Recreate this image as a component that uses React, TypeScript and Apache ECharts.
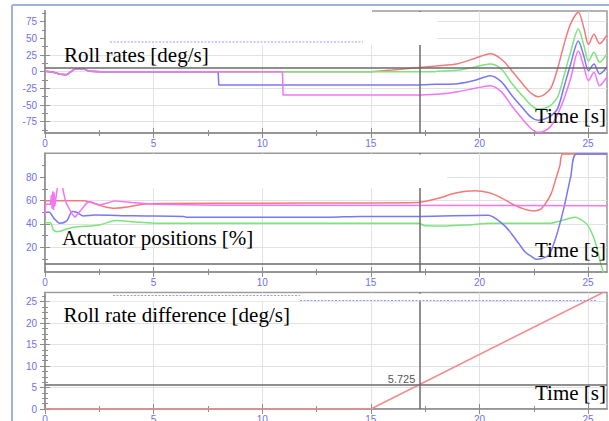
import React, { useEffect, useRef } from "react";
import * as echarts from "echarts";

// ---------- shared time axis ----------
const timeLabels = [0, 5, 10, 15, 20, 25];
const timeMinor = [2.5, 7.5, 12.5, 17.5, 22.5];
const timeMax = 25.87;
const cursorTime = 17.23;
const cursorValue = 5.725;

// ---------- panel 1: roll rates [deg/s] ----------
const rollLabels = [-75, -50, -25, 0, 25, 50, 75];
const rollMinor = [-87.5, -62.5, -37.5, -12.5, 12.5, 37.5, 62.5, 87.5];
const rollStart = [[0, 0.5], [0.35, -0.5], [0.7, -4], [1.0, -4.5], [1.2, 0], [1.4, 4.5], [1.75, 4.5], [2.05, 0.5], [2.6, 0]];
const rollBlueStep = [[7.97, 0], [8.0, -20]];
const rollMagentaStep = [[10.93, 0], [10.96, -35]];
const rollTime = [15, 16, 17, 18, 19, 19.8, 20.5, 21, 21.5, 22, 22.4, 22.7, 23, 23.3, 23.6, 23.9, 24.2, 24.55, 24.8, 25.02, 25.27, 25.53, 25.87];
const rollRed = [0, 2.5, 5.5, 8.5, 12, 20, 27, 19, 1, -19, -33, -37.5, -34, -24, 5, 42, 72, 89, 66, 41, 56, 42, 55];
const rollGreen = [0, 0, 0, 0.5, 2, 7, 11.5, 4, -18, -37, -51, -56, -55, -50, -38, -5, 30, 64, 40, 16, 29, 14, 27];
const rollBlue = [-20, -20, -20, -19, -18, -13, -6, -15, -36, -55, -69, -73, -71, -66, -55, -22, 12, 46, 24, 1.5, 11.5, -3.5, 7];
const rollMagenta = [-35, -35, -35, -34, -30, -25, -21, -30, -52, -72, -86, -91, -89, -81, -64, -40, -10, 31, 8, -13.5, -1, -21, -8];

// ---------- panel 2: actuator positions [%] ----------
const actLabels = [20, 40, 60, 80];
const actMinor = [10, 30, 50, 70, 90];
const actRed = [[0, 57], [0.05, 60], [1.8, 60], [2.2, 58], [2.6, 55.5], [3.2, 53.5], [3.8, 54.5], [4.5, 57], [5.5, 57.5], [10, 57.8], [17.2, 58.5], [18.1, 62], [18.9, 66.5], [19.8, 68.5], [20.4, 67], [20.9, 63.5], [21.6, 56.3], [22.1, 52.5], [22.5, 51.2], [22.8, 52.5], [23.05, 57.8], [23.3, 66], [23.5, 77.7], [23.7, 90], [23.85, 100], [25.87, 100]];
const actGreen = [[0, 41], [0.25, 41], [0.38, 35], [0.54, 33.4], [0.9, 35], [1.3, 37.1], [2.5, 39.2], [3.3, 42.9], [4, 42], [5.3, 40.6], [17.2, 40.6], [17.5, 38.5], [18.5, 38.3], [19.5, 39.2], [20.5, 40.6], [23.2, 40.6], [23.8, 43], [24.4, 45.7], [24.9, 40.6], [25.1, 35], [25.3, 26.3], [25.5, 12], [25.6, 4.9], [25.7, -1], [25.87, -5]];
const actBlue = [[0, 50], [0.2, 50], [0.4, 45], [0.69, 40.6], [1.0, 42.6], [1.15, 48], [1.25, 50.6], [1.45, 50], [1.76, 46.9], [2.3, 47.7], [4, 47], [6.4, 46.5], [6.5, 45.8], [13, 45.8], [14.5, 46.5], [17.2, 46.5], [20.4, 47.5], [20.8, 44], [21.2, 37.7], [21.5, 31], [21.8, 23.5], [22.1, 16], [22.4, 12], [22.6, 9.8], [22.9, 10.5], [23.2, 13.5], [23.4, 22], [23.6, 33.4], [23.9, 54.9], [24.2, 80.6], [24.47, 100], [25.87, 100]];
const actMagenta = [[0, 48], [0.03, 57], [0.25, 57], [0.3, 65], [0.33, 53], [0.36, 68], [0.39, 52], [0.42, 67], [0.45, 55], [0.5, 62], [0.61, 76], [0.75, 76], [0.95, 59], [1.22, 49.2], [1.38, 45.7], [1.6, 50.6], [1.91, 57.8], [2.06, 59.2], [2.5, 56.3], [2.83, 57.8], [3.2, 59.8], [4, 58.5], [5, 57], [8, 56], [25.87, 55.7]];

// ---------- panel 3: roll rate difference [deg/s] ----------
const diffLabels = [0, 5, 10, 15, 20, 25];
const diffMinor = [1.25, 2.5, 3.75, 6.25, 7.5, 8.75, 11.25, 12.5, 13.75, 16.25, 17.5, 18.75, 21.25, 22.5, 23.75, 26.25];
const diffRed = [[0, 0], [15, 0], [25.87, 27.6]];

const RED = "#f47a7a";
const GREEN = "#7ce47c";
const BLUE = "#7878f4";
const MAGENTA = "#f474f4";
const AXIS_GRAY = "#8c8c8c";
const LABEL_BLUE = "#6f6ff2";

function axisSet(dim: "x" | "y", gridIndex: number, min: number, max: number, labels: number[], minors: number[], margin: number) {
  const position = dim === "x" ? "bottom" : "left";
  const base: any = {
    type: "value",
    gridIndex,
    min,
    max,
    position,
    splitLine: { show: false },
    axisLabel: { show: false },
    axisLine: { show: false, onZero: false },
  };
  const tick = (vals: number[], len: number, inside: boolean) => ({
    show: true,
    customValues: vals,
    length: len,
    inside,
    lineStyle: { color: AXIS_GRAY, width: 1 },
  });
  return [
    {
      ...base,
      axisLine: { show: true, onZero: false, lineStyle: { color: AXIS_GRAY, width: 1.5 } },
      axisTick: tick(labels, 5, false),
      axisLabel: { show: true, customValues: labels, color: LABEL_BLUE, fontSize: 10, fontFamily: "Liberation Sans", margin },
      splitLine: { show: true, lineStyle: { color: "#e2e2e2", width: 1 } },
    },
    { ...base, axisTick: tick(labels, 5, true) },
    { ...base, axisTick: tick(minors, 3, false) },
    { ...base, axisTick: tick(minors, 3, true) },
  ];
}

function line(data: number[][], color: string, idx: number, smooth: number | boolean, extra: any = {}) {
  return {
    type: "line",
    data,
    xAxisIndex: idx,
    yAxisIndex: idx,
    symbol: "none",
    showSymbol: false,
    smooth,
    lineStyle: { color, width: 1.5 },
    itemStyle: { color },
    z: 3,
    ...extra,
  };
}

const zip = (t: number[], v: number[]) => t.map((x, i) => [x, v[i]]);

const cursorMark = {
  silent: true,
  symbol: ["none", "none"],
  label: { show: false },
  lineStyle: { color: "#6a6a6a", width: 1.5, type: "solid" },
  data: [{ xAxis: cursorTime }, { yAxis: cursorValue }],
};

export default function App() {
  const ref = useRef<HTMLDivElement>(null);
  useEffect(() => {
    if (!ref.current) return;
    const chart = echarts.init(ref.current, undefined, { renderer: "svg" });
    const grids = [
      { left: 45, right: 2, top: 11, height: 122 },
      { left: 45, right: 2, top: 153.3, height: 118.7 },
      { left: 45, right: 2, top: 292.5, height: 116.5 },
    ].map((g) => ({
      ...g,
      show: true,
      borderColor: "#9a9a9a",
      borderWidth: 1.5,
      backgroundColor: "transparent",
      containLabel: false,
      outerBoundsMode: "none",
    }));

    const xAxis = [
      ...axisSet("x", 0, 0, timeMax, timeLabels, timeMinor, 5),
      ...axisSet("x", 1, 0, timeMax, timeLabels, timeMinor, 5),
      ...axisSet("x", 2, 0, timeMax, timeLabels, timeMinor, 5),
    ];
    const yAxis = [
      ...axisSet("y", 0, -92, 91, rollLabels, rollMinor, 8),
      ...axisSet("y", 1, -1.2, 100.6, actLabels, actMinor, 8),
      ...axisSet("y", 2, 0, 27.14, diffLabels, diffMinor, 8),
    ];

    const series: any[] = [
      // panel 1
      line([...rollStart, [15, 0]], RED, 0, false, { markLine: cursorMark }),
      line(zip(rollTime, rollRed), RED, 0, 0.3),
      line([...rollStart, [18, 0]], GREEN, 0, false),
      line(zip(rollTime, rollGreen).filter((p) => p[0] >= 18), GREEN, 0, 0.3),
      line([...rollStart, ...rollBlueStep, [15, -20]], BLUE, 0, false),
      line(zip(rollTime, rollBlue), BLUE, 0, 0.3),
      line([...rollStart, ...rollMagentaStep, [15, -35]], MAGENTA, 0, false),
      line(zip(rollTime, rollMagenta), MAGENTA, 0, 0.3),
      // panel 2
      line(actRed, RED, 4, 0.3, { markLine: cursorMark }),
      line(actGreen, GREEN, 4, 0.3),
      line(actBlue, BLUE, 4, 0.3),
      line(actMagenta, MAGENTA, 4, false),
      // panel 3
      line(diffRed, "#f88a8a", 8, false, {
        markLine: cursorMark,
        markPoint: {
          symbol: "circle",
          symbolSize: 0,
          data: [
            {
              coord: [cursorTime, cursorValue],
              label: { show: true, formatter: String(cursorValue), position: "left", distance: 4, offset: [0, -5], color: "#555", fontSize: 11, fontFamily: "Liberation Sans" },
            },
          ],
        },
      }),
    ];

    const serif = "21px 'Liberation Serif'";
    const text = (t: string, x: number, y: number, align: string) => ({
      type: "text",
      x,
      y,
      z: 150,
      style: { text: t, font: serif, fill: "#000", align, verticalAlign: "middle" },
    });
    const white = (x: number, y: number, w: number, h: number) => ({
      type: "rect",
      z: 100,
      shape: { x, y, width: w, height: h },
      style: { fill: "#ffffff" },
    });
    const dotted = (x1: number, y1: number, x2: number, y2: number) => ({
      type: "line",
      z: 110,
      shape: { x1, y1, x2, y2 },
      style: { stroke: "#9a9af6", lineWidth: 1, lineDash: [2, 1.5] },
    });

    chart.setOption({
      animation: false,
      backgroundColor: "#ffffff",
      textStyle: { fontFamily: "Liberation Sans" },
      grid: grids,
      xAxis,
      yAxis,
      series,
      graphic: [
        white(46, 7.5, 326, 37.5),
        white(372, 12, 65, 33),
        white(46, 154.5, 401, 33.5),
        white(46, 293.8, 387, 7.5),
        dotted(110, 42, 363, 42),
        dotted(113, 295.5, 300, 295.5),
        dotted(300, 300.5, 597, 300.5),
        { type: "line", z: 200, shape: { x1: 12, y1: 5, x2: 12, y2: 421 }, style: { stroke: "#9fb2da", lineWidth: 2 } },
        { type: "line", z: 200, shape: { x1: 12, y1: 5, x2: 609, y2: 5 }, style: { stroke: "#9fb2da", lineWidth: 2 } },
        text("Roll rates [deg/s]", 64, 55, "left"),
        text("Time [s]", 606, 115.5, "right"),
        text("Actuator positions [%]", 62, 238, "left"),
        text("Time [s]", 606, 250, "right"),
        text("Roll rate difference [deg/s]", 63.5, 314.5, "left"),
        text("Time [s]", 606, 392.5, "right"),
      ],
    });
    return () => chart.dispose();
  }, []);
  return <div ref={ref} style={{ position: "absolute", left: 0, top: 0, width: 609, height: 421 }} />;
}
